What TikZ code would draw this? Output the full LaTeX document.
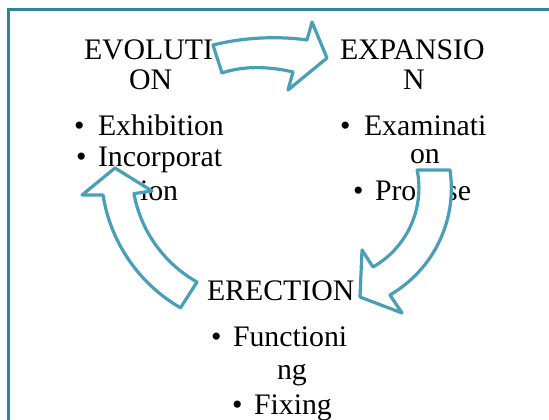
\documentclass[tikz,border=0pt]{standalone}
\usepackage{fontspec}
\setmainfont{Liberation Serif}
\definecolor{framecol}{HTML}{2E8598}
\definecolor{arrowcol}{HTML}{4A9FB8}
\begin{document}
\begin{tikzpicture}[x=1pt,y=-1pt,
  txt/.style={anchor=base west,inner sep=0pt,outer sep=0pt,
              font=\fontsize{29.8}{33}\selectfont},
  blockarrow/.style={draw=arrowcol,fill=white,line width=3.2pt,line join=round},
  frameline/.style={draw=framecol,line width=3pt}]
\useasboundingbox (0,0) rectangle (549,420);

% open frame: top and left edges
\coordinate (fr-bl) at (8.5,422);
\coordinate (fr-tl) at (8.5,9.5);
\coordinate (fr-tr) at (551,9.5);
\draw[frameline] (fr-bl) -- (fr-tl) -- (fr-tr);

% EVOLUTION block
\node[txt] (evo1) at (84,59.5) {EVOLUTI};
\node[txt] (evo2) at (129,89) {ON};
\node[txt] (evoB1) at (74,135) {•};
\node[txt] (evoT1) at (98,135) {Exhibition};
\node[txt] (evoB2) at (76,166) {•};
\node[txt] (evoT2) at (98,166) {Incorporat};
\node[txt] (evoT3) at (140,200) {ion};

% EXPANSION block
\node[txt] (exp1) at (340,59.5) {EXPANSIO};
\node[txt] (exp2) at (403,89) {N};
\node[txt] (expB1) at (340,135) {•};
\node[txt] (expT1) at (364,135) {Examinati};
\node[txt] (expT2) at (410,163) {on};
\node[txt] (expB2) at (353,200) {•};
\node[txt] (expT3) at (375,200) {Propose};

% ERECTION block
\node[txt] (ere1) at (207,300) {ERECTION};
\node[txt] (ereB1) at (211,346) {•};
\node[txt] (ereT1) at (233,346) {Functioni};
\node[txt] (ereT2) at (277,379) {ng};
\node[txt] (ereB2) at (232,414) {•};
\node[txt] (ereT3) at (254,414) {Fixing};

% top arrow: EVOLUTION -> EXPANSION
\coordinate (ta-tl) at (213,45);
\coordinate (ta-sr) at (307,40);
\coordinate (ta-ht) at (312,22);
\coordinate (ta-tip) at (327,58);
\coordinate (ta-hb) at (288,90);
\coordinate (ta-br) at (293,72);
\coordinate (ta-bl) at (222,73);
\draw[blockarrow] (ta-tl) .. controls (245,37) and (280,36) .. (ta-sr)
  -- (ta-ht) -- (ta-tip) -- (ta-hb) -- (ta-br)
  .. controls (268,66) and (242,66) .. (ta-bl) -- cycle;

% right arrow: EXPANSION -> ERECTION
\coordinate (ra-ti) at (418,170);
\draw[blockarrow] (ra-ti) -- (450,170)
  arc[start angle=-8.5, end angle=59.8, radius=123.5]
  -- (402,313) -- (360,297) -- (362,250) -- (373,267)
  arc[start angle=60.3, end angle=-11.3, radius=91] -- cycle;

% left arrow: ERECTION -> EVOLUTION
\coordinate (la-tip) at (115,168);
\draw[blockarrow] (la-tip) -- (82,195) -- (103,195)
  arc[start angle=171, end angle=120, radius=159]
  -- (197,282)
  arc[start angle=119.4, end angle=169.6, radius=128]
  -- (152,191) -- cycle;
\end{tikzpicture}
\end{document}
